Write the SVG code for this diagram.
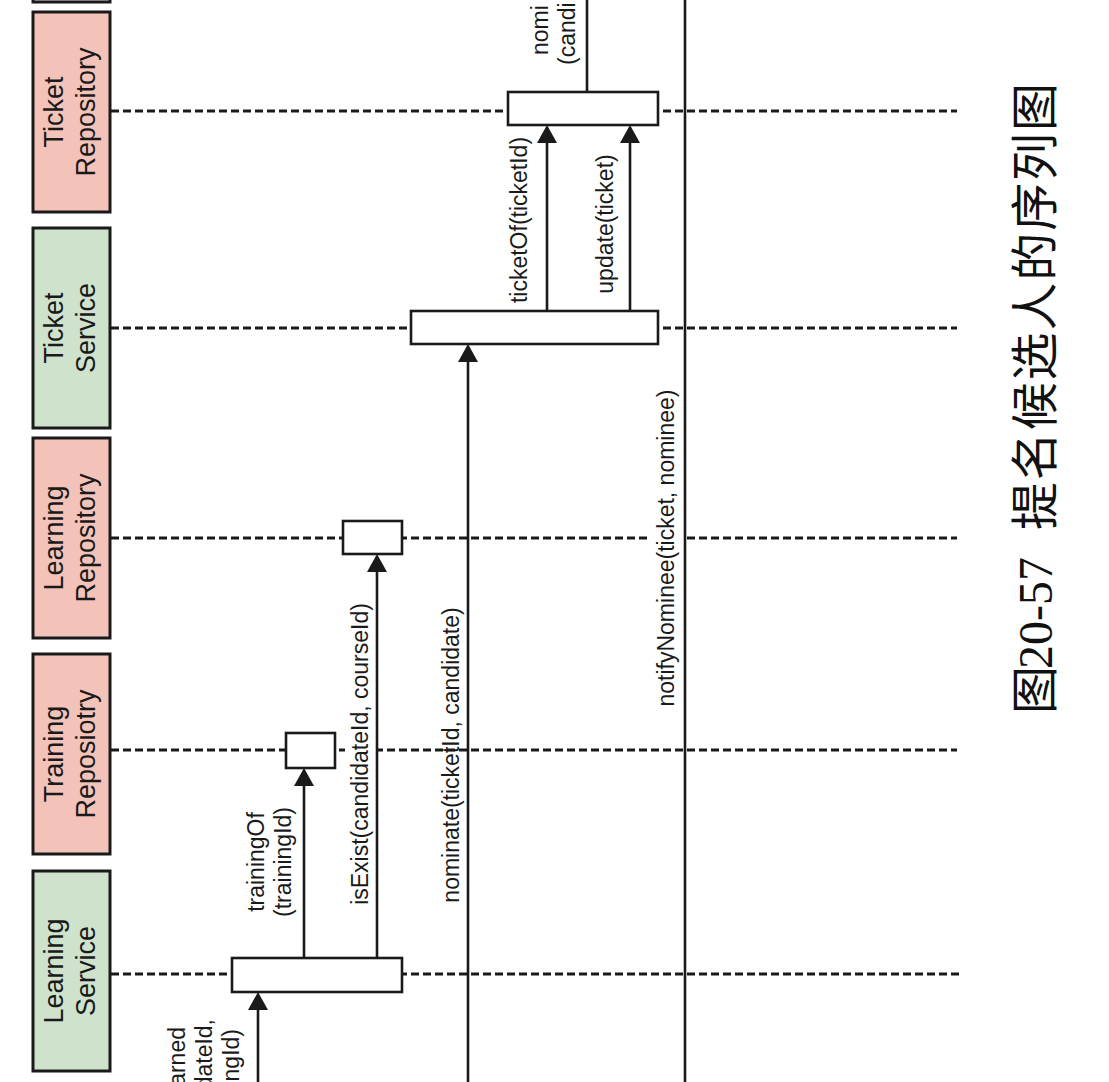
<svg xmlns="http://www.w3.org/2000/svg" width="1109" height="1082" viewBox="0 0 1109 1082">
<style>
.box{stroke:#1a1a1a;stroke-width:3}
.repo{fill:#f3c3ba}
.svc{fill:#cfe3cc}
.life{stroke:#1a1a1a;stroke-width:2.8;stroke-dasharray:8 4;fill:none}
.act{fill:#fff;stroke:#1a1a1a;stroke-width:2.6}
.msg{stroke:#1a1a1a;stroke-width:2.6;fill:none}
.bg{fill:#fff}
.lbl{font-family:"Liberation Sans",Arial,sans-serif;font-size:27px;fill:#1a1a1a;text-anchor:middle}
.mt{font-family:"Liberation Sans",Arial,sans-serif;font-size:23px;fill:#1a1a1a}
.capc{font-family:"Noto Sans CJK SC",serif;font-size:48px;fill:#111}
.capd{font-family:"Liberation Serif",serif;font-size:48px;fill:#111}
</style>
<defs>
<marker id="ah" markerUnits="userSpaceOnUse" markerWidth="20" markerHeight="20" refX="14" refY="10" orient="auto" viewBox="0 0 18 20">
<path d="M0,0 L18,10 L0,20 Z" fill="#1a1a1a"/>
</marker>
</defs>
<rect width="1109" height="1082" fill="#fff"/>

<g id="lifelines">
<line class="life" x1="111" y1="111" x2="957" y2="111"/>
<line class="life" x1="111" y1="328" x2="957" y2="328"/>
<line class="life" x1="111" y1="538" x2="957" y2="538"/>
<line class="life" x1="111" y1="750" x2="957" y2="750"/>
<line class="life" x1="111" y1="974" x2="961" y2="974"/>
</g>

<g id="node-top-partial">
<rect class="box svc" x="33" y="-198" width="77" height="200"/>
</g>
<g id="node-ticket-repository">
<rect class="box repo" x="33" y="12" width="77" height="200"/>
<text class="lbl" transform="translate(63,112) rotate(-90)">Ticket</text>
<text class="lbl" transform="translate(95,112) rotate(-90)">Repository</text>
</g>
<g id="node-ticket-service">
<rect class="box svc" x="33" y="228" width="77" height="200"/>
<text class="lbl" transform="translate(63,328) rotate(-90)">Ticket</text>
<text class="lbl" transform="translate(95,328) rotate(-90)">Service</text>
</g>
<g id="node-learning-repository">
<rect class="box repo" x="33" y="438" width="77" height="200"/>
<text class="lbl" transform="translate(63,538) rotate(-90)">Learning</text>
<text class="lbl" transform="translate(95,538) rotate(-90)">Repository</text>
</g>
<g id="node-training-repository">
<rect class="box repo" x="33" y="654" width="77" height="200"/>
<text class="lbl" transform="translate(63,754) rotate(-90)">Training</text>
<text class="lbl" transform="translate(95,754) rotate(-90)">Reposiotry</text>
</g>
<g id="node-learning-service">
<rect class="box svc" x="33" y="871" width="77" height="200"/>
<text class="lbl" transform="translate(63,971) rotate(-90)">Learning</text>
<text class="lbl" transform="translate(95,971) rotate(-90)">Service</text>
</g>

<g id="message-labels">
<rect class="bg" x="647" y="386" width="37" height="323"/>
<rect class="bg" x="345" y="601" width="31" height="306"/>
<text class="mt" transform="translate(548,55) rotate(-90)">nomi</text>
<text class="mt" transform="translate(575,65) rotate(-90)">(candi</text>
<text class="mt" text-anchor="middle" transform="translate(527,220) rotate(-90)">ticketOf(ticketId)</text>
<text class="mt" text-anchor="middle" transform="translate(613,224) rotate(-90)">update(ticket)</text>
<text class="mt" text-anchor="middle" transform="translate(674,548) rotate(-90)">notifyNominee(ticket, nominee)</text>
<text class="mt" text-anchor="middle" transform="translate(459,755) rotate(-90)">nominate(ticketId, candidate)</text>
<text class="mt" text-anchor="middle" transform="translate(368,754) rotate(-90)">isExist(candidateId, courseId)</text>
<text class="mt" text-anchor="middle" transform="translate(264,862) rotate(-90)">trainingOf</text>
<text class="mt" text-anchor="middle" transform="translate(291,862) rotate(-90)">(trainingId)</text>
<text class="mt" text-anchor="end" transform="translate(185,1027) rotate(-90)">arned</text>
<text class="mt" text-anchor="end" transform="translate(212,1019) rotate(-90)">dateId,</text>
<text class="mt" text-anchor="end" transform="translate(239,1029) rotate(-90)">ngId)</text>
</g>

<g id="connectors">
<line class="msg" x1="587" y1="-10" x2="587" y2="92"/>
<line class="msg" x1="685" y1="-10" x2="685" y2="1092"/>
<line class="msg" x1="547" y1="311" x2="547" y2="129" marker-end="url(#ah)"/>
<line class="msg" x1="630" y1="311" x2="630" y2="129" marker-end="url(#ah)"/>
<line class="msg" x1="468" y1="1092" x2="468" y2="348" marker-end="url(#ah)"/>
<line class="msg" x1="377" y1="958" x2="377" y2="558" marker-end="url(#ah)"/>
<line class="msg" x1="304" y1="958" x2="304" y2="772" marker-end="url(#ah)"/>
<line class="msg" x1="258" y1="1092" x2="258" y2="996" marker-end="url(#ah)"/>
</g>

<g id="activations">
<rect class="act" x="508" y="92" width="150" height="33"/>
<rect class="act" x="411" y="311" width="247" height="33"/>
<rect class="act" x="343" y="521" width="59" height="33"/>
<rect class="act" x="286" y="733" width="49" height="35"/>
<rect class="act" x="232" y="958" width="170" height="34"/>
</g>

<g id="caption">
<text class="capc" transform="translate(1052,714) rotate(-90)">图</text>
<text class="capd" transform="translate(1052,669) rotate(-90)">20-57</text>
<text class="capc" textLength="447" lengthAdjust="spacing" transform="translate(1052,530) rotate(-90)">提名候选人的序列图</text>
</g>
</svg>
